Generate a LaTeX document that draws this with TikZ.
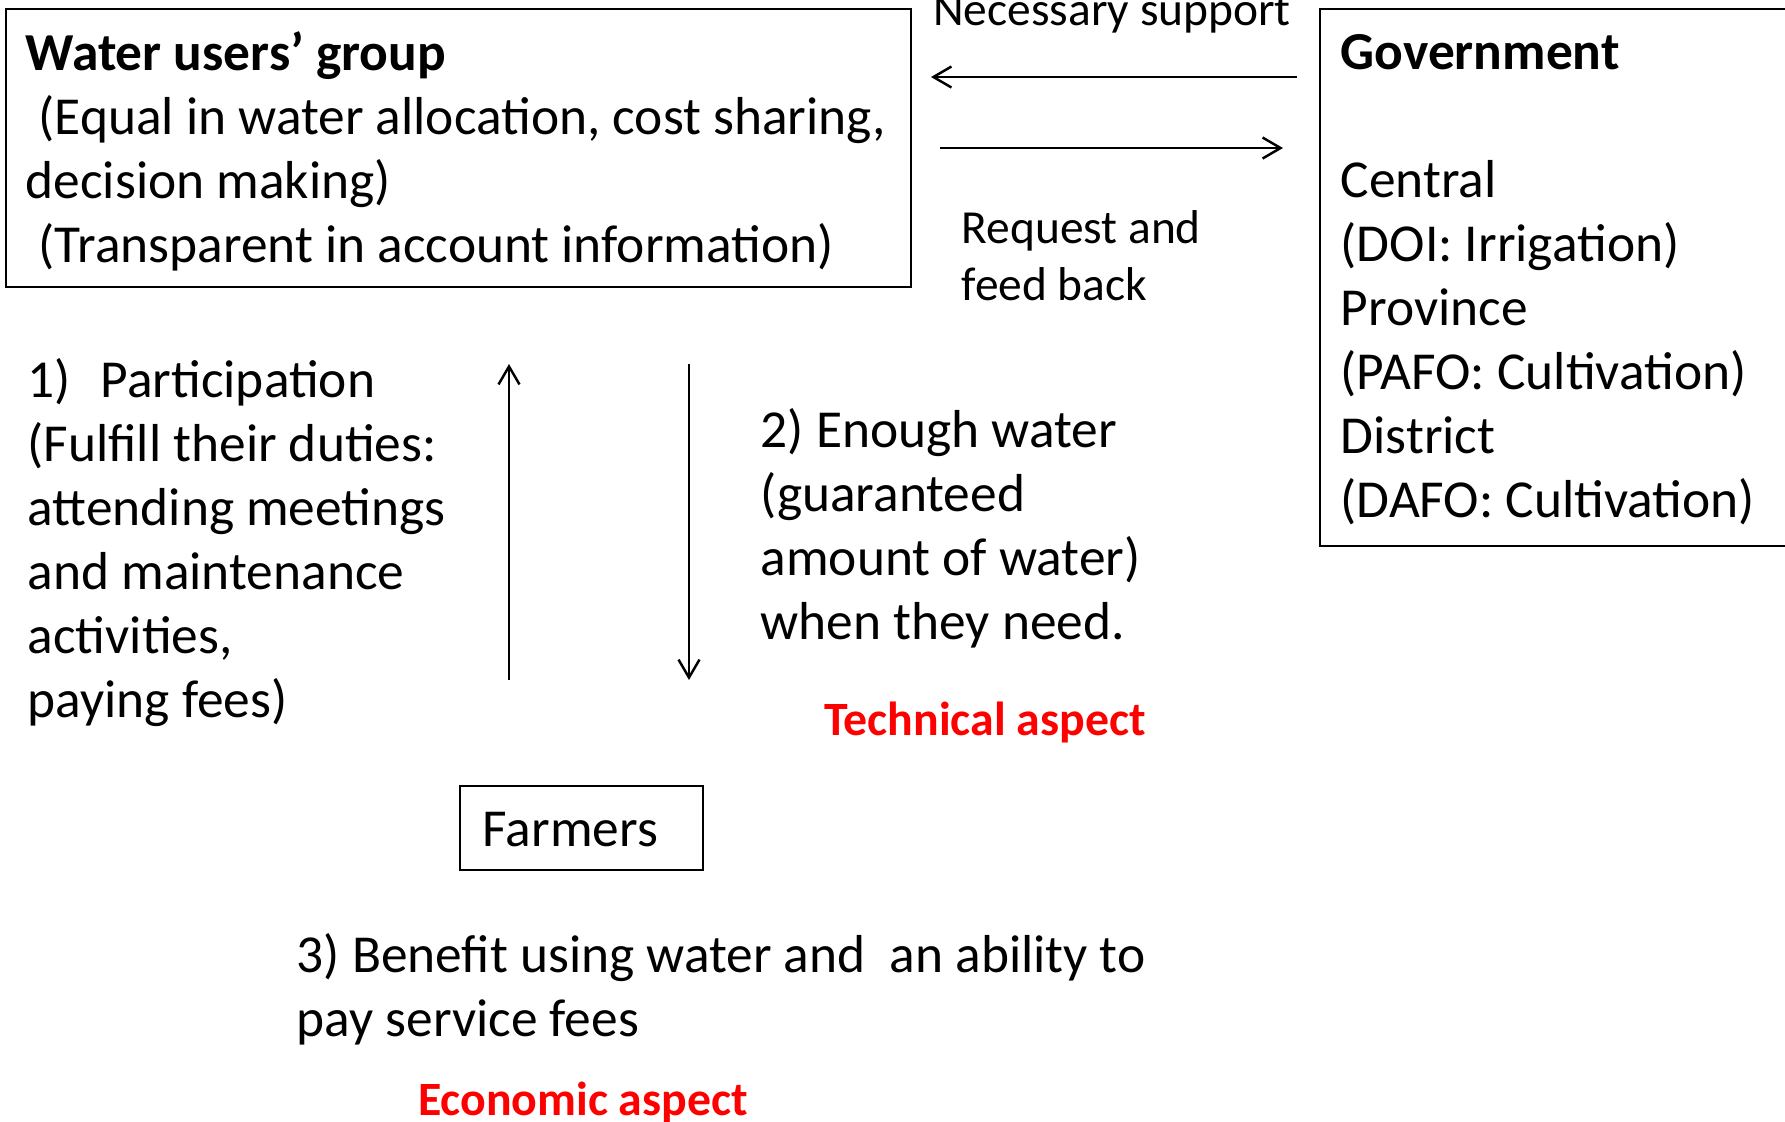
\documentclass[tikz,border=0pt]{standalone}
\usepackage{fontspec}
\setmainfont{Carlito}
\usetikzlibrary{calc}
\usetikzlibrary{arrows.meta}

\tikzset{
  txt/.style={anchor=base west, align=left, inner sep=0pt, font=\fontsize{15.2}{18.2}\selectfont},
  lbl/.style={anchor=base west, align=left, inner sep=0pt, font=\fontsize{13.5}{16.2}\selectfont},
  aspect/.style={anchor=base, inner sep=0pt, text=red, font=\fontsize{13.6}{16.2}\selectfont\bfseries},
  flow/.style={line width=0.7pt, -{Straight Barb[length=1.8mm, width=2.1mm]}},
  frame/.style={line width=0.7pt}
}

\begin{document}
\begin{tikzpicture}[x=0.1mm, y=-0.1mm]
\useasboundingbox (0,0) rectangle (1785,1121);

\draw[frame] (6,9) rectangle (911,287);
\node[txt] (wug) at (25,262) {\textbf{Water users’ group}\\\hspace*{1.3mm}(Equal in water allocation, cost sharing,\\decision making)\\\hspace*{1.3mm}(Transparent in account information)};

\draw[frame] (1320,9) rectangle (1800,546);
\node[txt] (gov) at (1340,517) {\textbf{Government}\\[18.2pt]Central\\(DOI: Irrigation)\\Province\\(PAFO: Cultivation)\\District\\(DAFO: Cultivation)};

\node[lbl, anchor=base] (sup) at (1112,25) {Necessary support};
\coordinate (supS) at (1297,77);
\coordinate (supE) at (931,77);
\draw[flow] (supS) -- (supE);
\coordinate (reqS) at (940,148);
\coordinate (reqE) at (1283,148);
\draw[flow] (reqS) -- (reqE);
\node[lbl] (req) at (961,300) {Request and\\feed back};

\node[txt] (part) at (27,717) {\makebox[7.3mm][l]{1)}Participation\\(Fulfill their duties:\\attending meetings\\and maintenance\\activities,\\paying fees)};
\coordinate (upS) at (509,680);
\coordinate (upE) at (509,364);
\draw[flow] (upS) -- (upE);
\coordinate (dnS) at (689,364);
\coordinate (dnE) at (689,680);
\draw[flow] (dnS) -- (dnE);
\node[txt] (water) at (760,639) {2) Enough water\\(guaranteed\\amount of water)\\when they need.};
\node[aspect] (tech) at (985,735) {Technical aspect};

\draw[frame] (460,786) rectangle (703,870);
\node[txt] (farm) at (482,846) {Farmers};

\node[txt] (ben) at (296,1036) {3) Benefit using water and~ an ability to\\pay service fees};
\node[aspect] (eco) at (583,1115) {Economic aspect};

\end{tikzpicture}
\end{document}
